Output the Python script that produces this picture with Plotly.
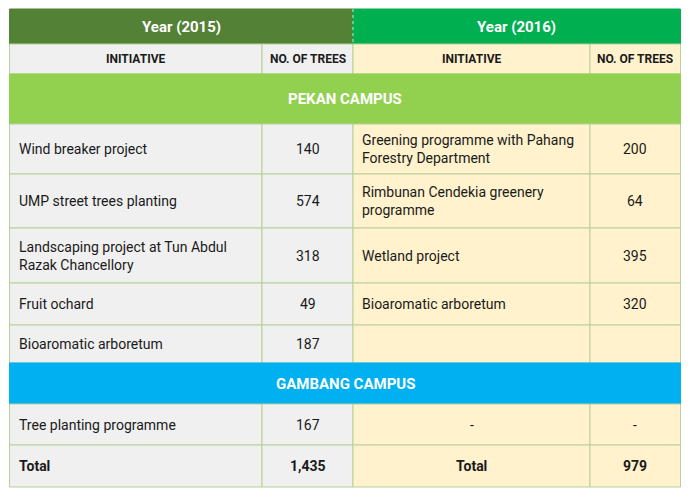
import plotly.graph_objects as go

# ---------------- data ----------------
years = ["Year (2015)", "Year (2016)"]
col_headers = ["INITIATIVE", "NO. OF TREES", "INITIATIVE", "NO. OF TREES"]
campuses = ["PEKAN CAMPUS", "GAMBANG CAMPUS"]

pekan_2015_initiative = ["Wind breaker project", "UMP street trees planting",
                         "Landscaping project at Tun Abdul<br>Razak Chancellory",
                         "Fruit ochard", "Bioaromatic arboretum"]
pekan_2015_trees = ["140", "574", "318", "49", "187"]
pekan_2016_initiative = ["Greening programme with Pahang<br>Forestry Department",
                         "Rimbunan Cendekia greenery<br>programme",
                         "Wetland project", "Bioaromatic arboretum", ""]
pekan_2016_trees = ["200", "64", "395", "320", ""]

gambang_2015_initiative = ["Tree planting programme"]
gambang_2015_trees = ["167"]
gambang_2016_initiative = ["-"]
gambang_2016_trees = ["-"]

total_label = "Total"
total_2015 = "1,435"
total_2016 = "979"

# ---------------- style ----------------
W, H = 690, 498
PAGE_OFF = 8  # browser body margin
X_LEFT, Y_TOP = 9.5, 9
col_w = [252.5, 91, 237, 90.5]
h_year, h_sub, h_band = 35, 30, 50
pekan_row_h = [50, 54, 55, 42, 38]
h_gband = 41
gambang_row_h = [41]
h_total = 42

FONT = "Roboto, Liberation Sans, Arial, sans-serif"
BORDER = "#b8d09a"
GRAY = "#f0f0f0"
CREAM = "#fff2cc"
DARK_GREEN = "#538135"
BRIGHT_GREEN = "#00b050"
PEKAN_GREEN = "#92d050"
GAMBANG_BLUE = "#00b0f0"
TXT = "#1a1a1a"
PAD = 7

col_x = [X_LEFT]
for w in col_w:
    col_x.append(col_x[-1] + w)
X_RIGHT = col_x[-1]
col_fill = [GRAY, GRAY, CREAM, CREAM]

shapes, annotations = [], []


def rect(x0, x1, y0, y1, fill, line=BORDER, lw=1):
    shapes.append(dict(type="rect", xref="x", yref="y", x0=x0, x1=x1, y0=y0, y1=y1,
                       fillcolor=fill, line=dict(color=line, width=lw), layer="below"))


def text(x, y, s, anchor="center", size=14, color=TXT, bold=False):
    annotations.append(dict(xref="x", yref="y", x=x, y=y, text=(f"<b>{s}</b>" if bold else s),
                            showarrow=False, xanchor=anchor, yanchor="middle", align=anchor,
                            font=dict(family=FONT, size=size, color=color)))


def four_col_row(y, h, vals, aligns, bold=False, size=14):
    for i in range(4):
        rect(col_x[i], col_x[i + 1], y, y + h, col_fill[i])
        if vals[i] == "":
            continue
        if aligns[i] == "left":
            text(col_x[i] + PAD, y + h / 2, vals[i], "left", size=size, bold=bold)
        else:
            text((col_x[i] + col_x[i + 1]) / 2, y + h / 2, vals[i], "center", size=size, bold=bold)


y = Y_TOP
# Year header
year_x = [col_x[0], col_x[2], col_x[4]]
for i, (lab, fill) in enumerate(zip(years, [DARK_GREEN, BRIGHT_GREEN])):
    rect(year_x[i], year_x[i + 1], y, y + h_year, fill, line=fill)
    text((year_x[i] + year_x[i + 1]) / 2, y + h_year / 2, lab, size=15, color="white", bold=True)
shapes.append(dict(type="line", xref="x", yref="y", x0=col_x[2], x1=col_x[2], y0=y, y1=y + h_year,
                   line=dict(color="#cfe3c4", width=1, dash="dot")))
y += h_year

# column headers
four_col_row(y, h_sub, col_headers, ["center"] * 4, bold=True, size=12)
y += h_sub

# Pekan band
rect(X_LEFT, X_RIGHT, y, y + h_band, PEKAN_GREEN, line=PEKAN_GREEN)
text((X_LEFT + X_RIGHT) / 2, y + h_band / 2, campuses[0], size=15, color="white", bold=True)
y += h_band

for k, h in enumerate(pekan_row_h):
    four_col_row(y, h, [pekan_2015_initiative[k], pekan_2015_trees[k],
                        pekan_2016_initiative[k], pekan_2016_trees[k]],
                 ["left", "center", "left", "center"])
    y += h

# Gambang band
rect(X_LEFT, X_RIGHT, y, y + h_gband, GAMBANG_BLUE, line=GAMBANG_BLUE)
text((X_LEFT + X_RIGHT) / 2, y + h_gband / 2, campuses[1], size=15, color="white", bold=True)
y += h_gband

for k, h in enumerate(gambang_row_h):
    four_col_row(y, h, [gambang_2015_initiative[k], gambang_2015_trees[k],
                        gambang_2016_initiative[k], gambang_2016_trees[k]],
                 ["left", "center", "center", "center"])
    y += h

# Total row
four_col_row(y, h_total, [total_label, total_2015, total_label, total_2016],
             ["left", "center", "center", "center"], bold=True)
y += h_total

fig = go.Figure()
fig.update_layout(
    width=W - PAGE_OFF, height=H - PAGE_OFF, margin=dict(l=0, r=0, t=0, b=0),
    paper_bgcolor="white", plot_bgcolor="white",
    xaxis=dict(range=[PAGE_OFF, W], visible=False, fixedrange=True),
    yaxis=dict(range=[H, PAGE_OFF], visible=False, fixedrange=True),
    shapes=shapes, annotations=annotations, showlegend=False,
)
fig.write_html("out.html", config={"displayModeBar": False})
